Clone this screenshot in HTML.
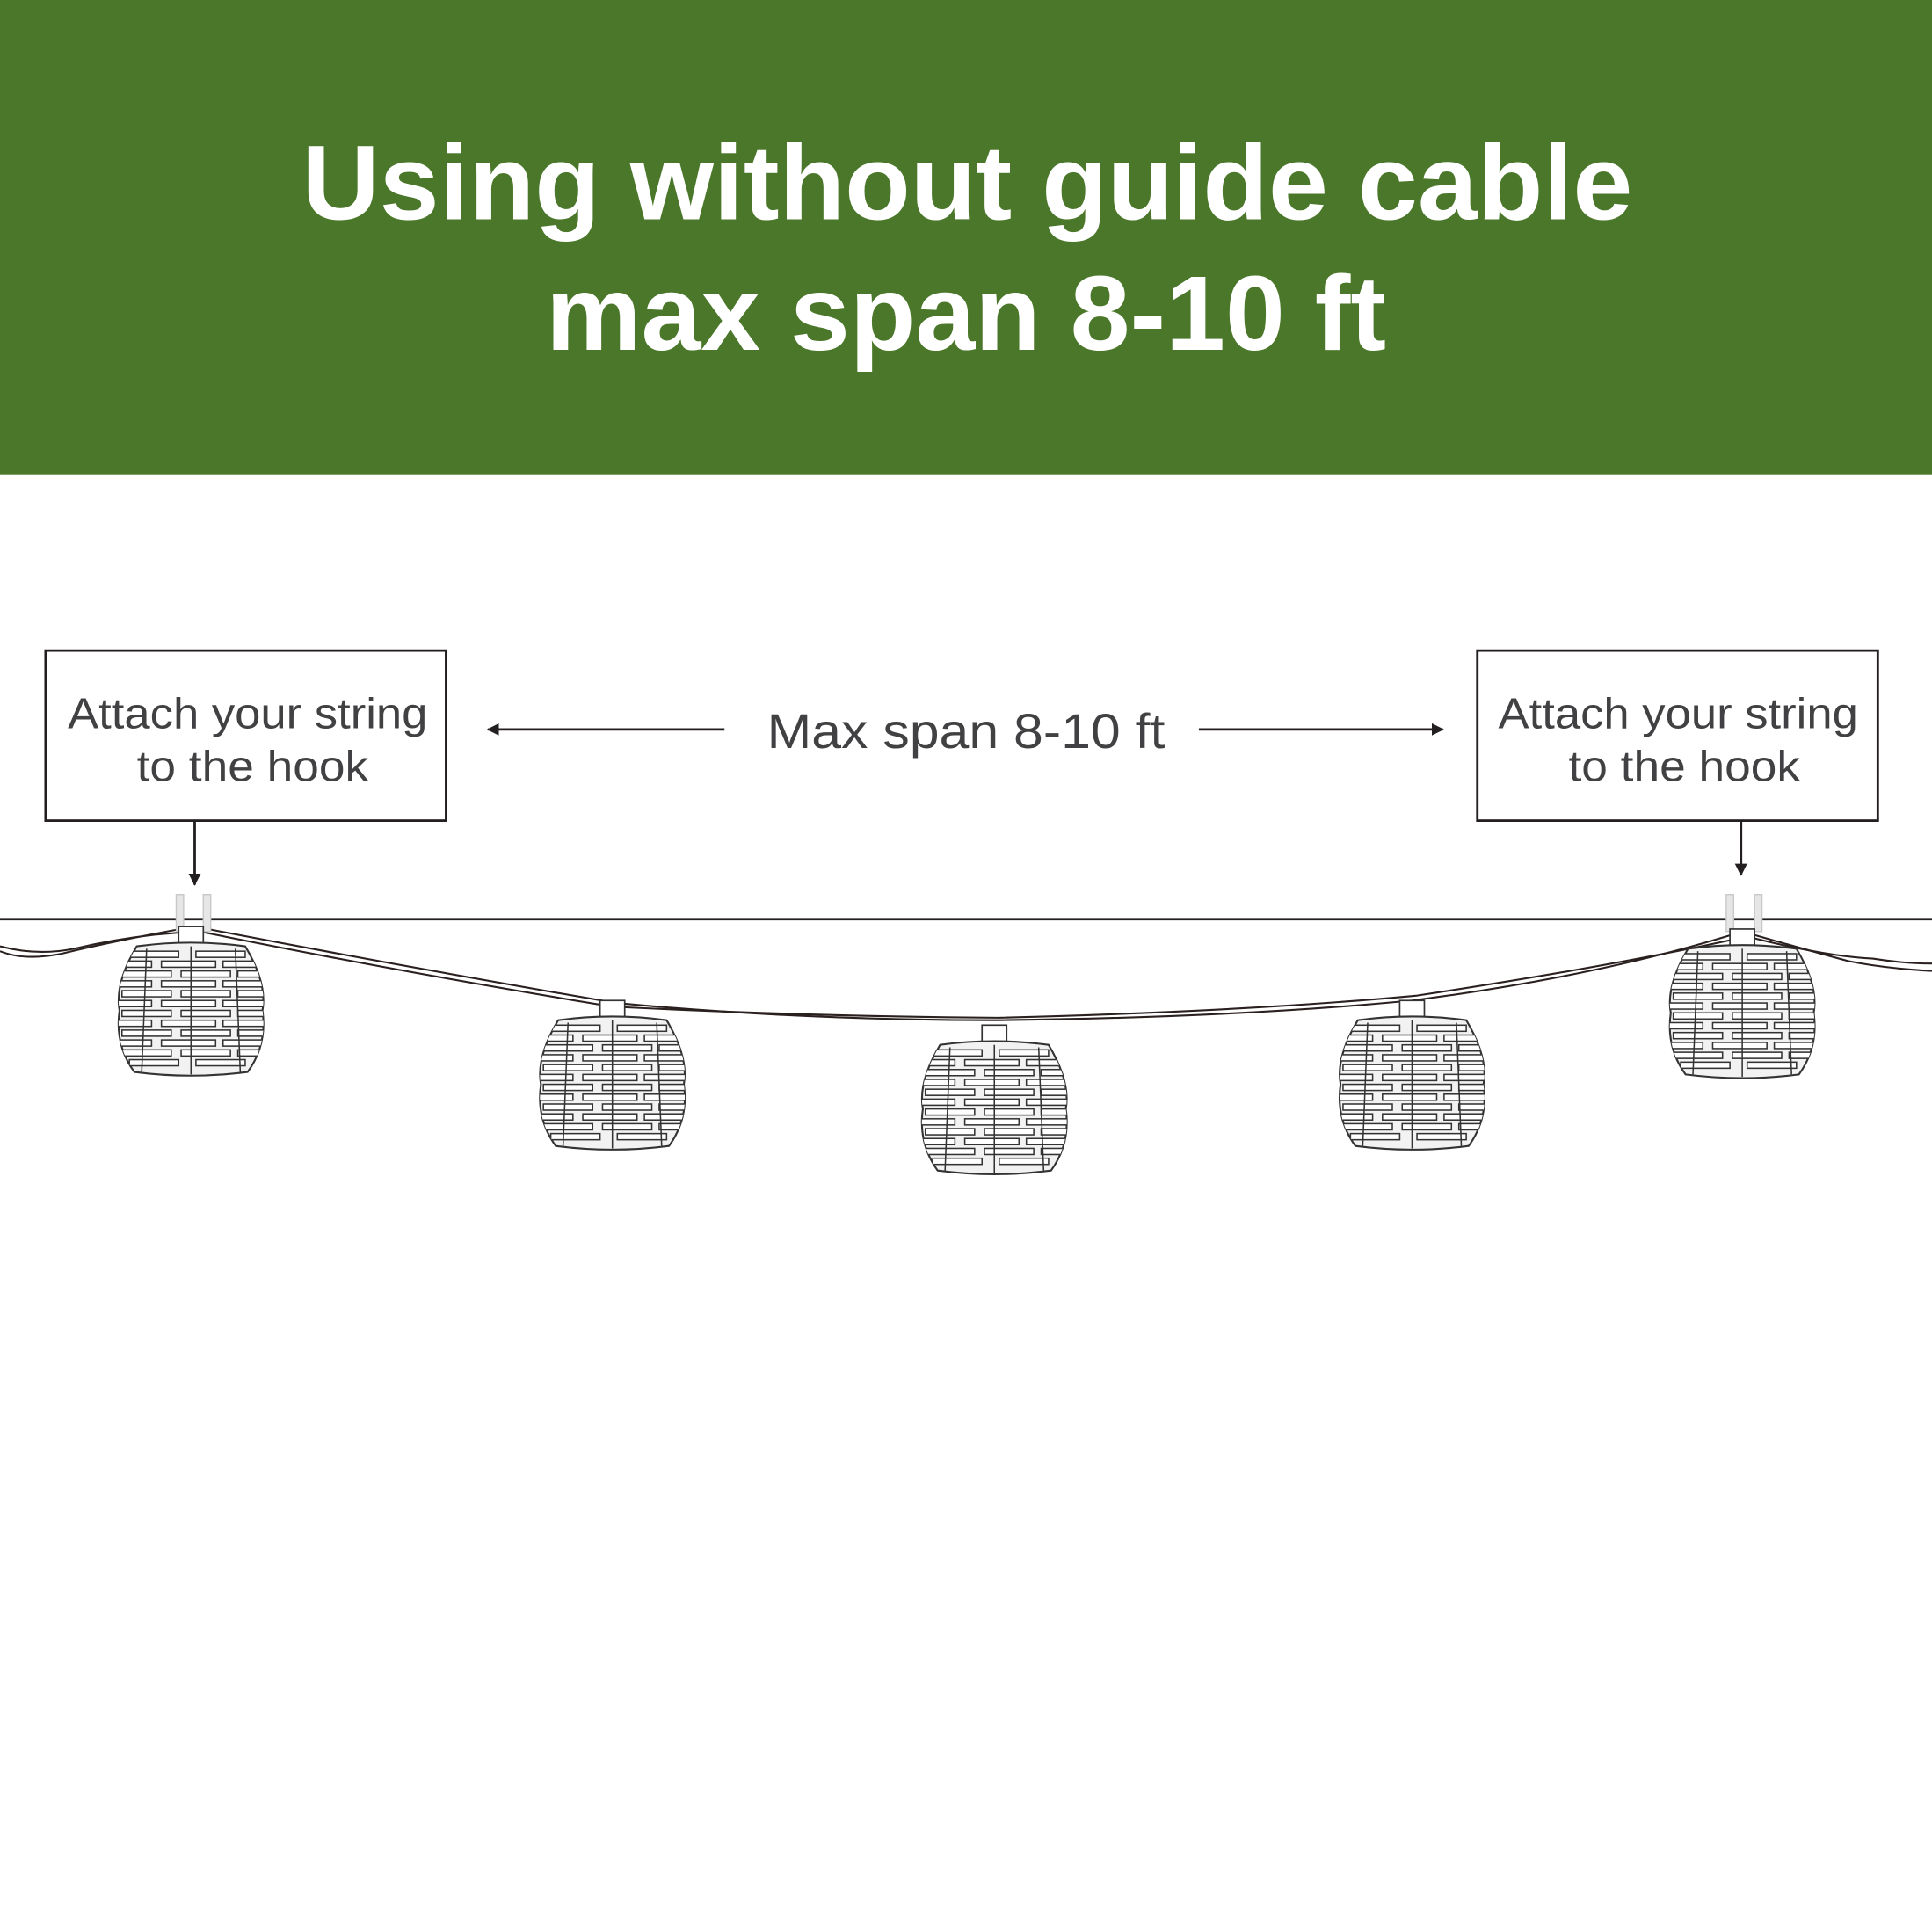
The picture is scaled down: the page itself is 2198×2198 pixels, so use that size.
<!DOCTYPE html>
<html><head><meta charset="utf-8"><style>html,body{margin:0;padding:0;background:#fff}svg{display:block}</style></head>
<body>
<svg width="2198" height="2198" viewBox="0 0 1568 1568" xmlns="http://www.w3.org/2000/svg">
<defs>
<marker id="ah" markerWidth="10" markerHeight="10" refX="9" refY="5" orient="auto" markerUnits="userSpaceOnUse" viewBox="0 0 10 10"><path d="M0,0 L10,5 L0,10 Z" fill="#231f20"/></marker>
<clipPath id="barrel"><path d="M-44,0 Q0,-6 44,0 Q62,30 58,52 Q62,80 46,102 Q0,108 -46,102 Q-62,80 -58,52 Q-62,30 -44,0 Z"/></clipPath>
<g id="lan">
<rect x="-10" y="-16" width="20" height="17" fill="#fff" stroke="#333" stroke-width="1.2"/>
<path d="M-44,0 Q0,-6 44,0 Q62,30 58,52 Q62,80 46,102 Q0,108 -46,102 Q-62,80 -58,52 Q-62,30 -44,0 Z" fill="#f2f2f2" stroke="#333" stroke-width="1.5"/>
<g clip-path="url(#barrel)" stroke="#333" stroke-width="1.1" fill="#fff">
<rect x="-50" y="4" width="40" height="5"/><rect x="4" y="4" width="40" height="5"/>
<rect x="-62" y="12" width="30" height="5"/><rect x="-24" y="12" width="44" height="5"/><rect x="26" y="12" width="36" height="5"/>
<rect x="-56" y="20" width="40" height="5"/><rect x="-8" y="20" width="40" height="5"/><rect x="38" y="20" width="30" height="5"/>
<rect x="-62" y="28" width="30" height="5"/><rect x="-24" y="28" width="44" height="5"/><rect x="26" y="28" width="36" height="5"/>
<rect x="-56" y="36" width="40" height="5"/><rect x="-8" y="36" width="40" height="5"/><rect x="38" y="36" width="30" height="5"/>
<rect x="-62" y="44" width="30" height="5"/><rect x="-24" y="44" width="44" height="5"/><rect x="26" y="44" width="36" height="5"/>
<rect x="-56" y="52" width="40" height="5"/><rect x="-8" y="52" width="40" height="5"/><rect x="38" y="52" width="30" height="5"/>
<rect x="-62" y="60" width="30" height="5"/><rect x="-24" y="60" width="44" height="5"/><rect x="26" y="60" width="36" height="5"/>
<rect x="-56" y="68" width="40" height="5"/><rect x="-8" y="68" width="40" height="5"/><rect x="38" y="68" width="30" height="5"/>
<rect x="-62" y="76" width="30" height="5"/><rect x="-24" y="76" width="44" height="5"/><rect x="26" y="76" width="36" height="5"/>
<rect x="-56" y="84" width="40" height="5"/><rect x="-8" y="84" width="40" height="5"/><rect x="38" y="84" width="30" height="5"/>
<rect x="-50" y="92" width="40" height="5"/><rect x="4" y="92" width="40" height="5"/>
<line x1="0" y1="0" x2="0" y2="104"/><line x1="-36" y1="2" x2="-40" y2="102"/><line x1="36" y1="2" x2="40" y2="102"/>
</g>
</g>
</defs>
<rect x="0" y="0" width="1568" height="385" fill="#4a7729"/>
<text x="785" y="178" text-anchor="middle" font-family="Liberation Sans, sans-serif" font-weight="bold" font-size="86" fill="#fff" textLength="1080" lengthAdjust="spacingAndGlyphs">Using without guide cable</text>
<text x="784" y="284" text-anchor="middle" font-family="Liberation Sans, sans-serif" font-weight="bold" font-size="86" fill="#fff" textLength="682" lengthAdjust="spacingAndGlyphs">max span 8-10 ft</text>

<g font-family="Liberation Sans, sans-serif" font-size="35" fill="#414042" text-anchor="middle">
<rect x="37" y="528" width="325" height="138" fill="none" stroke="#231f20" stroke-width="2"/>
<text x="201" y="591" textLength="292" lengthAdjust="spacingAndGlyphs">Attach your string</text>
<text x="205" y="634" textLength="188" lengthAdjust="spacingAndGlyphs">to the hook</text>
<rect x="1199" y="528" width="325" height="138" fill="none" stroke="#231f20" stroke-width="2"/>
<text x="1362" y="591" textLength="292" lengthAdjust="spacingAndGlyphs">Attach your string</text>
<text x="1367" y="634" textLength="188" lengthAdjust="spacingAndGlyphs">to the hook</text>
<text x="784" y="607" font-size="40" textLength="323" lengthAdjust="spacingAndGlyphs">Max span 8-10 ft</text>
</g>
<g stroke="#231f20" stroke-width="2" fill="none">
<line x1="588" y1="592" x2="396" y2="592" marker-end="url(#ah)"/>
<line x1="973" y1="592" x2="1171" y2="592" marker-end="url(#ah)"/>
<line x1="158" y1="667" x2="158" y2="718" marker-end="url(#ah)"/>
<line x1="1413" y1="667" x2="1413" y2="710" marker-end="url(#ah)"/>
<line x1="0" y1="746" x2="1568" y2="746"/>
</g>
<g stroke="#2b2020" stroke-width="1.5" fill="none">
<path d="M0,772 Q20,780 50,774 Q100,762 158,752 Q330,785 500,814 Q650,828 807,828 Q1000,826 1146,812 Q1300,792 1414,756 Q1470,772 1500,780 Q1530,786 1568,788"/>
<path d="M0,768 Q30,776 60,770 Q110,758 162,756 Q320,788 497,817 Q660,825 810,826 Q1010,821 1150,808 Q1310,784 1418,760 Q1480,776 1520,778 Q1545,782 1568,782"/>
</g>
<g fill="#e6e6e6" stroke="#c8c8c8" stroke-width="1">
<rect x="143" y="726" width="6" height="30"/><rect x="165" y="726" width="6" height="30"/>
<rect x="1401" y="726" width="6" height="30"/><rect x="1424" y="726" width="6" height="30"/>
</g>
<use href="#lan" transform="translate(155,768)"/>
<use href="#lan" transform="translate(497,828)"/>
<use href="#lan" transform="translate(807,848)"/>
<use href="#lan" transform="translate(1146,828)"/>
<use href="#lan" transform="translate(1414,770)"/>
</svg>
</body></html>
